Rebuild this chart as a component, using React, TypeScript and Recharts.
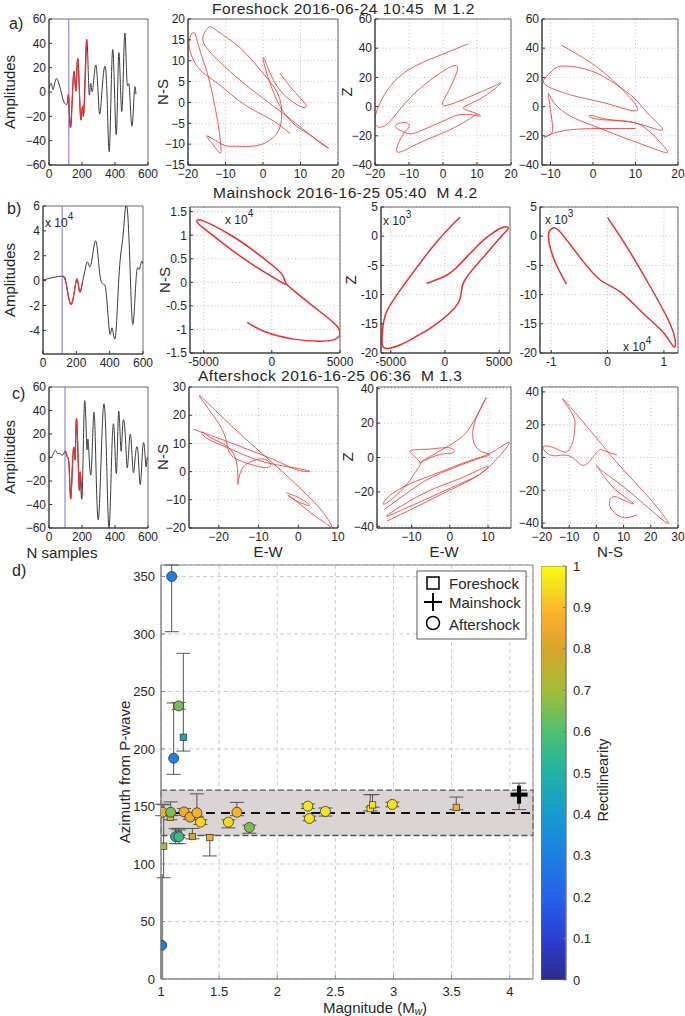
import React from 'react';
import {
  LineChart, Line, XAxis, YAxis, CartesianGrid, ReferenceArea, ReferenceLine,
  ScatterChart, Scatter, ErrorBar, BarChart, Bar,
} from 'recharts';

const FONT = '"Liberation Sans", Arial, Helvetica, sans-serif';
const TXT = '#262626';
const RED = '#e8302e';
const WAVE = '#3a3a3a';
const PICK = '#7373e6';

// ---------------- waveforms (N samples vs amplitude)
const foreWaveX = [0, 15, 25, 40, 55, 70, 85, 100, 112, 120, 132, 150, 163, 175, 191, 203, 212, 228, 242, 252, 264, 285, 303, 319, 346, 366, 386, 407, 423, 441, 458, 472, 486, 502, 517, 527];
const foreWaveY = [3, 7, 2, 10, 9, 2, -6, -10, -8, -6, -28, 16, 1, 27, -20, -12, -15, 43, 1, 7, 1, 22, -14, -3, 15, -48, 35, -35, 32, -16, 47, 10, 5, -28, 0, -2];
const foreRedRange = [112, 228];
const forePick = 120;

const mainWaveX = [0, 60, 120, 140, 166, 190, 206, 220, 236, 250, 266, 280, 296, 316, 332, 346, 364, 380, 400, 414, 430, 444, 460, 480, 496, 510, 524, 540, 560, 576, 590, 600];
const mainWaveY = [0.05, 0.25, 0.35, -0.3, -1.9, -0.7, 0.1, -0.9, -0.2, 0.7, 1.5, 1.1, 1.9, 3.2, 1.7, 0.1, -0.3, -1.1, -4.2, -3.8, -4.7, -2.8, 1.2, 3.6, 6.0, 5.0, 0.4, -3.5, 0.4, 0.9, 1.5, 1.35];
const mainRedRange = [120, 236];
const mainPick = 115;

const afterWaveX = [0, 16, 36, 51, 67, 83, 99, 111, 122, 132, 144, 154, 160, 168, 182, 188, 201, 215, 229, 237, 253, 268, 280, 298, 320, 337, 351, 365, 381, 395, 409, 422, 436, 448, 464, 476, 493, 509, 523, 539, 553, 568, 580, 588, 594, 600];
const afterWaveY = [2, 0, 6, 3.5, 3.5, 2, 5.5, 0.7, -8, -35, -0.7, 6, 2, 32, -25, -13, -32, 47, 9, 15, -15, 30, 18, -53, 16, 43, -13, -59, 6, 23, -13, 39, 6, 30, 15, -8, 20, -11, 1, 5, -23, 8, 6, -8, -1, -2];
const afterRedRange = [99, 201];
const afterPick = 97;

// ---------------- particle motions [x, y]
const foreNSvsEW = [[4.5,7],[8,3],[11,0],[11.5,-1],[10,-1],[6,1.5],[3,5],[1,9],[0,10.7],[1,7],[4,0],[8,-5],[12,-7.5],[16,-10],[17.5,-11],[15,-9.5],[8,-4.5],[0,1],[-7,6],[-13,11],[-16,15],[-14.5,18],[-12,17],[-6,13],[0,7],[4,2],[5,-3],[4,-7],[1,-9.5],[-3,-10.5],[-8,-10.5],[-11,-10],[-15,-8],[-13,-10.5],[-11.2,-11.8],[-12,-5],[-13.5,2],[-15,7.5],[-17,13],[-18.3,16.7],[-19.5,15.5],[-19.5,12.5],[-17,8],[-12,4.5],[-5,-0.5],[2,-4],[7.3,-7.5]];
const foreZvsEW = [[7.4,43],[0,36],[-8,28],[-14,18],[-18,5],[-20,-8],[-19,-14],[-16,-11],[-12,0],[-7,12],[-2,21],[2,27],[4.2,27.5],[3.5,20],[1,8],[0,1],[4,3],[10,9],[15,14],[17,16],[14,10],[9,3],[6,-1],[9,-4],[11,-6.5],[8,-5.5],[4,-6],[0,-10],[-5,-15],[-9,-18.5],[-12,-17],[-14,-13],[-11,-11],[-10,-14],[-12,-20],[-13.5,-31],[-8,-26],[0,-18],[6,-11],[10,-5]];
const foreZvsNS = [[-7.4,42],[-1,31],[5,17],[10.5,-2],[4,1.5],[-4,7],[-11.2,15],[-10.5,22],[-8.5,27],[-5,27.5],[0,24],[5,16],[10,5],[13,-5],[16.4,-16],[11,-12],[5,-9.5],[0,-8],[-0.5,-6],[3,-8.5],[8,-10],[12,-14],[16,-25],[17.5,-31.5],[14,-28.5],[7,-21],[0,-13],[-5,-7],[-9,2],[-10.5,9],[-10,-2],[-9.5,-14],[-10,-19],[-11.5,-21],[-9,-18],[-4,-15.5],[3,-15],[10,-15]];

const mainNSvsEW = [[1000,-0.05],[-1000,0.3],[-3000,0.7],[-5000,1.15],[-5500,1.3],[-5000,1.3],[-3000,1.0],[-1000,0.6],[300,0.3],[800,0.15],[1000,0],[1500,-0.15],[3000,-0.5],[4500,-0.85],[5000,-1.05],[4700,-1.2],[3500,-1.25],[1500,-1.2],[-500,-1.05],[-1800,-0.85]];
const mainZvsEW = [[1400,3.3],[-1000,-1.5],[-4000,-8.9],[-5500,-13.5],[-5800,-17.5],[-5500,-19.2],[-4000,-18.5],[-2500,-17],[-1000,-15.3],[1200,-11.5],[1700,-8],[3500,-3.7],[5200,0],[5850,1.4],[5300,1.5],[4000,0],[2600,-2.4],[1000,-5.5],[-60,-6.9],[-1700,-8.1]];
const mainZvsNS = [[-0.73,-8.2],[-0.95,-4],[-1.05,0],[-0.99,1.3],[-0.85,0.8],[-0.5,-3.5],[-0.13,-7.5],[0.22,-9.5],[0.63,-13.2],[1.0,-16.6],[1.17,-18.9],[1.2,-17.7],[1.05,-13.8],[0.69,-7.5],[0.34,-1.8],[0,3.2]];

const afterNSvsEW = [[-26.4,15],[-20,11.8],[-12,7.5],[-5,3.5],[0,0.5],[2.8,0.2],[-3,1.8],[-10,4],[-17,8],[-22,11],[-24,13],[-24,14],[-22,12],[-18,9],[-15.5,3],[-15.2,-4.5],[-14.5,0],[-12,3.5],[-9,4.5],[-7,3],[-7.5,1.5],[-10,1.8],[-14,3.5],[-17,6],[-18,10],[-20,17],[-24.9,26.8],[-20,20.5],[-12,10],[-4,0],[2,-8],[6,-14],[8.4,-19.3],[6.5,-18],[3,-14.5],[0,-11],[-2.5,-8.5],[-1,-10],[2.8,-12],[0.5,-9.5],[-3,-7.5]];
const afterZvsEW = [[-16.4,-37],[-9,-29],[0,-19],[7,-11],[9.9,-5.1],[4,-11],[-4,-18],[-11,-26],[-16.5,-34],[-12,-30],[-4,-22],[4,-14],[10,-6],[15.6,8.5],[11,3],[5,-2],[-2,-8],[-9,-14],[-15,-21],[-17.4,-27],[-15,-24],[-11,-15],[-8.5,-7],[-8,-2],[-10.4,3.7],[-6,4.8],[0,5.6],[0.9,2.7],[-3,1.5],[-7.8,-3.1],[-4,2],[2,10],[6,20],[9.5,34.7],[7.5,26],[6,14.4],[7.4,4.7],[10.4,1.7],[7,-1],[1,-6],[-6,-13],[-12,-22],[-17,-30]];
const afterZvsNS = [[7.5,1.5],[4,3.5],[2,4.6],[0,3],[-4.2,-4.6],[-8,-1],[-12,1.5],[-17,1.5],[-19.5,6.6],[-15,5.5],[-10.9,3.5],[-8.5,10.7],[-7.9,18.8],[-9,27],[-12.2,35.5],[-2,16],[8,-4],[18,-22],[26.4,-39.7],[20,-32],[10,-18],[2,-8],[0,-5],[3,-12],[8,-21],[13.6,-28],[10,-26],[6,-24],[5,-30],[8.7,-36],[12,-36.5],[15,-35]];

// ---------------- panel d) azimuth vs magnitude
const foreMag = [1.192, 1.023, 1.08, 1.15, 1.27, 1.42, 2.8, 2.82, 3.54];
const foreAz = [210.2, 115.5, 140.5, 126, 123.9, 123, 148.2, 151.4, 149.2];
const foreErrLo = [12, 27.5, 2, 3, 2, 16, 2, 2, 2];
const foreErrHi = [73, 36, 2, 5, 7, 2, 12, 9, 9];
const foreRect = [0.44, 0.72, 0.86, 0.78, 0.78, 0.86, 0.95, 0.95, 0.86];

const afterMag = [1.092, 1.109, 1.152, 1.011, 1.083, 1.198, 1.249, 1.309, 1.34, 1.58, 1.653, 1.76, 2.263, 2.277, 2.414, 2.99, 1.126, 1.154];
const afterAz = [350, 192, 237.5, 145, 145, 145.3, 140.8, 144.5, 136.4, 136.4, 145, 131.8, 150.3, 139.6, 145.7, 151.8, 123.7, 123.7];
const afterErrLo = [48, 14, 3, 3, 3, 3, 2, 3, 2, 5, 3, 5, 2, 2, 4, 2, 6, 6];
const afterErrHi = [10, 48, 3, 7, 9, 3, 2, 16.5, 2, 2, 8.6, 2, 2, 2, 3, 2, 7, 6];
const afterRect = [0.3, 0.3, 0.65, 0.86, 0.65, 0.86, 0.86, 0.88, 0.94, 0.94, 0.88, 0.65, 0.96, 0.96, 0.96, 0.96, 0.5, 0.56];

const lowMag = [1.006];
const lowAz = [29.3];
const lowErrLo = [29.3];
const lowErrHi = [62];
const lowRect = [0.3];

const mainMag = [4.08];
const mainAz = [160.3];
const mainErrLo = [13];
const mainErrHi = [10];

const bandLow = 124.8;
const bandMid = 144.3;
const bandHigh = 164.3;

const magTicks = [1, 1.5, 2, 2.5, 3, 3.5, 4];
const azTicks = [0, 50, 100, 150, 200, 250, 300, 350];
const cbTicks = [0, 0.1, 0.2, 0.3, 0.4, 0.5, 0.6, 0.7, 0.8, 0.9, 1];

const cmapStops: [number, string][] = [
  [0, '#2c2a8a'], [0.1, '#2b3fd4'], [0.2, '#2461ea'], [0.3, '#1d7fe2'], [0.4, '#159ccf'],
  [0.5, '#1fb2a6'], [0.6, '#4fbf6f'], [0.7, '#a3bd3a'], [0.8, '#d9a42a'], [0.88, '#fcae2d'],
  [0.95, '#f7de1c'], [1, '#f9fb0e'],
];

// ---------------- helpers
const pairs = (a: number[][]) => a.map(([x, y]) => ({ x, y }));
const zip = (xs: number[], ys: number[]) => xs.map((x, i) => ({ x, y: ys[i] }));
const seg = (pts: any[], r: number[]) => pts.filter((p) => p.x >= r[0] && p.x <= r[1]);

const hex = (h: string) => [1, 3, 5].map((i) => parseInt(h.slice(i, i + 2), 16));
const cmap = (v: number) => {
  for (let i = 1; i < cmapStops.length; i++) {
    const [v1, c1] = cmapStops[i];
    const [v0, c0] = cmapStops[i - 1];
    if (v <= v1) {
      const t = (v - v0) / (v1 - v0);
      const a = hex(c0), b = hex(c1);
      const c = a.map((q, k) => Math.round(q + (b[k] - q) * t));
      return `rgb(${c[0]},${c[1]},${c[2]})`;
    }
  }
  return cmapStops[cmapStops.length - 1][1];
};

const pts = (mag: number[], az: number[], lo: number[], hi: number[], rect?: number[]) =>
  mag.map((m, i) => ({ mag: m, az: az[i], err: [lo[i], hi[i]], r: rect ? rect[i] : 0 }));

const foreWave = zip(foreWaveX, foreWaveY);
const mainWave = zip(mainWaveX, mainWaveY);
const afterWave = zip(afterWaveX, afterWaveY);

type Series = { data: any[]; color: string; width: number };
type PanelProps = {
  box: number[]; xDom: number[]; yDom: number[]; xTicks: number[]; yTicks: number[];
  minus: boolean; grid: boolean; series: Series[]; vline?: number;
};

const YW = 40, PT = 10, PR = 14, XH = 24;

function Panel({ box, xDom, yDom, xTicks, yTicks, minus, grid, series, vline }: PanelProps) {
  const [x0, y0, x1, y1] = box;
  const w = x1 - x0 + YW + PR;
  const h = y1 - y0 + PT + XH;
  const fmt = (v: number) => (minus ? String(v).replace('-', '\u2212') : String(v));
  const tick = { fontSize: 12, fill: TXT, fontFamily: FONT };
  return (
    <div style={{ position: 'absolute', left: x0 - YW, top: y0 - PT }}>
      <LineChart width={w} height={h} margin={{ top: PT, right: PR, left: 0, bottom: 0 }}>
        {grid && <CartesianGrid stroke="#c2c2c2" strokeDasharray="1 2.5" />}
        <XAxis type="number" dataKey="x" domain={xDom} ticks={xTicks} allowDataOverflow height={XH}
          interval={0} tickFormatter={fmt} tick={tick} stroke="#333" tickSize={-3} tickMargin={7} />
        <YAxis type="number" domain={yDom} ticks={yTicks} allowDataOverflow width={YW}
          interval={0} tickFormatter={fmt} tick={tick} stroke="#333" tickSize={-3} tickMargin={6} />
        {vline !== undefined && <ReferenceLine x={vline} stroke={PICK} strokeWidth={1} />}
        {series.map((s, i) => (
          <Line key={i} data={s.data} dataKey="y" type="natural" dot={false} stroke={s.color}
            strokeWidth={s.width} isAnimationActive={false} />
        ))}
        <ReferenceArea x1={xDom[0]} x2={xDom[1]} y1={yDom[0]} y2={yDom[1]} fill="none" stroke="#444" strokeWidth={0.8} />
      </LineChart>
    </div>
  );
}

const panels: PanelProps[] = [
  { box: [49, 19, 148, 165], xDom: [0, 600], yDom: [-60, 60], xTicks: [0, 200, 400, 600], yTicks: [-60, -40, -20, 0, 20, 40, 60], minus: true, grid: false, vline: forePick,
    series: [{ data: foreWave, color: WAVE, width: 1 }, { data: seg(foreWave, foreRedRange), color: RED, width: 1.2 }] },
  { box: [188, 19, 338, 165], xDom: [-20, 20], yDom: [-15, 20], xTicks: [-20, -10, 0, 10, 20], yTicks: [-15, -10, -5, 0, 5, 10, 15, 20], minus: true, grid: true,
    series: [{ data: pairs(foreNSvsEW), color: RED, width: 0.8 }] },
  { box: [375, 19, 511, 165], xDom: [-20, 20], yDom: [-40, 60], xTicks: [-20, -10, 0, 10, 20], yTicks: [-40, -20, 0, 20, 40, 60], minus: true, grid: true,
    series: [{ data: pairs(foreZvsEW), color: RED, width: 0.8 }] },
  { box: [542, 19, 678, 165], xDom: [-12, 20], yDom: [-40, 60], xTicks: [-10, 0, 10, 20], yTicks: [-40, -20, 0, 20, 40, 60], minus: true, grid: true,
    series: [{ data: pairs(foreZvsNS), color: RED, width: 0.8 }] },

  { box: [43, 206, 143, 354], xDom: [0, 600], yDom: [-5.9, 6], xTicks: [0, 200, 400, 600], yTicks: [-4, -2, 0, 2, 4, 6], minus: false, grid: false, vline: mainPick,
    series: [{ data: mainWave, color: WAVE, width: 1 }, { data: seg(mainWave, mainRedRange), color: RED, width: 1.2 }] },
  { box: [190, 207, 340, 353], xDom: [-6000, 5000], yDom: [-1.5, 1.6], xTicks: [-5000, 0, 5000], yTicks: [-1.5, -1, -0.5, 0, 0.5, 1, 1.5], minus: false, grid: true,
    series: [{ data: pairs(mainNSvsEW), color: RED, width: 1.5 }] },
  { box: [381, 207, 510, 353], xDom: [-5900, 6000], yDom: [-20, 5], xTicks: [-5000, 0, 5000], yTicks: [-20, -15, -10, -5, 0, 5], minus: false, grid: true,
    series: [{ data: pairs(mainZvsEW), color: RED, width: 1.5 }] },
  { box: [540, 207, 678, 353], xDom: [-1.2, 1.25], yDom: [-20, 5], xTicks: [-1, 0, 1], yTicks: [-20, -15, -10, -5, 0, 5], minus: false, grid: true,
    series: [{ data: pairs(mainZvsNS), color: RED, width: 1.5 }] },

  { box: [49, 387, 148, 528], xDom: [0, 600], yDom: [-60, 60], xTicks: [0, 200, 400, 600], yTicks: [-60, -40, -20, 0, 20, 40, 60], minus: true, grid: false, vline: afterPick,
    series: [{ data: afterWave, color: WAVE, width: 1 }, { data: seg(afterWave, afterRedRange), color: RED, width: 1.2 }] },
  { box: [189, 387, 338, 528], xDom: [-27.5, 10], yDom: [-20, 30], xTicks: [-20, -10, 0, 10], yTicks: [-20, -10, 0, 10, 20, 30], minus: true, grid: true,
    series: [{ data: pairs(afterNSvsEW), color: RED, width: 0.8 }] },
  { box: [377, 387, 511, 528], xDom: [-19, 16], yDom: [-41, 41], xTicks: [-10, 0, 10], yTicks: [-40, -20, 0, 20, 40], minus: true, grid: true,
    series: [{ data: pairs(afterZvsEW), color: RED, width: 0.8 }] },
  { box: [542, 387, 678, 528], xDom: [-20, 30], yDom: [-43, 43], xTicks: [-20, -10, 0, 10, 20, 30], yTicks: [-40, -20, 0, 20, 40], minus: true, grid: true,
    series: [{ data: pairs(afterZvsNS), color: RED, width: 0.8 }] },
];

const circleShape = (p: any) => (
  <circle cx={p.cx} cy={p.cy} r={5} fill={cmap(p.payload.r)} stroke="#333" strokeWidth={0.8} />
);
const squareShape = (p: any) => (
  <rect x={p.cx - 3.2} y={p.cy - 3.2} width={6.4} height={6.4} fill={cmap(p.payload.r)} stroke="#333" strokeWidth={0.7} />
);
const crossShape = (p: any) => (
  <g>
    <rect x={p.cx - 8.5} y={p.cy - 2} width={17} height={4} fill="#000" />
    <rect x={p.cx - 2} y={p.cy - 9} width={4} height={18} fill="#000" />
  </g>
);

function AzimuthChart() {
  const L = 161, T = 565, R = 533, B = 979;
  const yw = 55, pt = 10, pr = 14, xh = 26;
  const tick = { fontSize: 13, fill: TXT, fontFamily: FONT };
  return (
    <div style={{ position: 'absolute', left: L - yw, top: T - pt }}>
      <ScatterChart width={R - L + yw + pr} height={B - T + pt + xh} margin={{ top: pt, right: pr, left: 0, bottom: 0 }}>
        <CartesianGrid stroke="#cdcdcd" strokeDasharray="4 3" />
        <XAxis type="number" dataKey="mag" domain={[1, 4.2]} ticks={magTicks} allowDataOverflow height={xh}
          interval={0} tick={tick} stroke="#888" tickSize={-4} tickMargin={12} />
        <YAxis type="number" dataKey="az" domain={[0, 360]} ticks={azTicks} allowDataOverflow width={yw}
          interval={0} tick={tick} stroke="#888" tickSize={-4} tickMargin={10} />
        <ReferenceArea y1={bandLow} y2={bandHigh} fill="#dad4d4" fillOpacity={1} stroke="#555" strokeDasharray="6 3" strokeWidth={1.3} />
        <ReferenceLine y={bandMid} stroke="#111" strokeWidth={2} strokeDasharray="9 6" />
        <Scatter data={pts(lowMag, lowAz, lowErrLo, lowErrHi, lowRect)} shape={circleShape} isAnimationActive={false}>
          <ErrorBar dataKey="err" direction="y" width={0} stroke="#8c8c8c" strokeWidth={3} />
        </Scatter>
        <Scatter data={pts(foreMag, foreAz, foreErrLo, foreErrHi, foreRect)} shape={squareShape} isAnimationActive={false}>
          <ErrorBar dataKey="err" direction="y" width={7} stroke="#555" strokeWidth={1} />
        </Scatter>
        <Scatter data={pts(afterMag, afterAz, afterErrLo, afterErrHi, afterRect)} shape={circleShape} isAnimationActive={false}>
          <ErrorBar dataKey="err" direction="y" width={7} stroke="#555" strokeWidth={1} />
        </Scatter>
        <Scatter data={pts(mainMag, mainAz, mainErrLo, mainErrHi)} shape={crossShape} isAnimationActive={false}>
          <ErrorBar dataKey="err" direction="y" width={7} stroke="#555" strokeWidth={1} />
        </Scatter>
        <ReferenceArea x1={1} x2={4.2} y1={0} y2={360} fill="none" stroke="#888" strokeWidth={1} />
      </ScatterChart>
    </div>
  );
}

function ColorBar() {
  const L = 541, T = 566, B = 980, W = 25;
  const pt = 10, pb = 8, yw = 40;
  return (
    <div style={{ position: 'absolute', left: L, top: T - pt }}>
      <BarChart width={W + yw} height={B - T + pt + pb} data={[{ k: 'c', v: 1 }]} margin={{ top: pt, right: 0, left: 0, bottom: pb }} barCategoryGap={0}>
        <defs>
          <linearGradient id="parulaGrad" x1="0" y1="1" x2="0" y2="0">
            {cmapStops.map(([v, c]) => <stop key={v} offset={`${v * 100}%`} stopColor={c} />)}
          </linearGradient>
        </defs>
        <XAxis dataKey="k" hide />
        <YAxis orientation="right" type="number" domain={[0, 1]} ticks={cbTicks} allowDataOverflow width={yw}
          interval={0} tick={{ fontSize: 13, fill: TXT, fontFamily: FONT }} stroke="#777" tickSize={-3} tickMargin={10} />
        <Bar dataKey="v" fill="url(#parulaGrad)" stroke="#777" strokeWidth={0.8} isAnimationActive={false} />
      </BarChart>
    </div>
  );
}

const Tx = (p: any) => <text fontFamily={FONT} fill={TXT} {...p} />;

function Overlay() {
  const nb = '\u00a0\u00a0';
  return (
    <svg width={685} height={1016} style={{ position: 'absolute', left: 0, top: 0, pointerEvents: 'none' }}>
      {/* titles */}
      <Tx x={212} y={13.5} fontSize={15.5} letterSpacing={0.5}>{`Foreshock 2016-06-24 10:45${nb}M 1.2`}</Tx>
      <Tx x={213} y={197.5} fontSize={15.5} letterSpacing={0.5}>{`Mainshock 2016-16-25 05:40${nb}M 4.2`}</Tx>
      <Tx x={198} y={381} fontSize={15.5} letterSpacing={0.5}>{`Aftershock 2016-16-25 06:36${nb}M 1.3`}</Tx>
      {/* row letters */}
      <Tx x={9} y={29} fontSize={16}>a)</Tx>
      <Tx x={7} y={214} fontSize={16}>b)</Tx>
      <Tx x={12} y={399} fontSize={16}>c)</Tx>
      <Tx x={12} y={576} fontSize={16}>d)</Tx>
      {/* y labels */}
      {[92, 280, 457].map((cy) => (
        <Tx key={cy} x={15} y={cy} fontSize={15} textAnchor="middle" transform={`rotate(-90 15 ${cy})`}>Amplitudes</Tx>
      ))}
      {[[168, 92], [170, 280], [168, 457]].map(([cx, cy]) => (
        <Tx key={cy} x={cx} y={cy} fontSize={15} textAnchor="middle" transform={`rotate(-90 ${cx} ${cy})`}>N-S</Tx>
      ))}
      {[[352, 92], [356, 280], [353, 457]].map(([cx, cy]) => (
        <Tx key={cy} x={cx} y={cy} fontSize={15} textAnchor="middle" transform={`rotate(-90 ${cx} ${cy})`}>Z</Tx>
      ))}
      {/* x labels */}
      <Tx x={62} y={558} fontSize={15} textAnchor="middle">N samples</Tx>
      <Tx x={268} y={557} fontSize={15} textAnchor="middle">E-W</Tx>
      <Tx x={444} y={557} fontSize={15} textAnchor="middle">E-W</Tx>
      <Tx x={610} y={557} fontSize={15} textAnchor="middle">N-S</Tx>
      {/* exponents */}
      <Tx x={45} y={227} fontSize={12}>x 10<tspan fontSize={10} dy={-7}>4</tspan></Tx>
      <Tx x={225} y={224} fontSize={12}>x 10<tspan fontSize={10} dy={-7}>4</tspan></Tx>
      <Tx x={383} y={225} fontSize={12}>x 10<tspan fontSize={10} dy={-7}>3</tspan></Tx>
      <Tx x={545} y={224} fontSize={12}>x 10<tspan fontSize={10} dy={-7}>3</tspan></Tx>
      <Tx x={623} y={351} fontSize={12}>x 10<tspan fontSize={10} dy={-7}>4</tspan></Tx>
      {/* d) labels */}
      <Tx x={130} y={772} fontSize={15} textAnchor="middle" transform="rotate(-90 130 772)">Azimuth from P-wave</Tx>
      <Tx x={323} y={1013} fontSize={15}>Magnitude (M<tspan fontSize={10} fontStyle="italic" dy={2}>w</tspan><tspan dy={-2}>)</tspan></Tx>
      <Tx x={608} y={780} fontSize={14.5} textAnchor="middle" transform="rotate(-90 608 780)">Rectilinearity</Tx>
      {/* legend */}
      <rect x={417} y={571} width={109} height={68} fill="#fff" stroke="#333" strokeWidth={0.8} />
      <rect x={427} y={577} width={12} height={12} fill="none" stroke="#000" strokeWidth={1.5} />
      <line x1={424} y1={602} x2={442} y2={602} stroke="#000" strokeWidth={2} />
      <line x1={433} y1={593} x2={433} y2={611} stroke="#000" strokeWidth={2} />
      <circle cx={433} cy={623} r={6.5} fill="none" stroke="#000" strokeWidth={1.5} />
      <Tx x={449} y={589} fontSize={15}>Foreshock</Tx>
      <Tx x={449} y={608} fontSize={15}>Mainshock</Tx>
      <Tx x={449} y={630} fontSize={15}>Aftershock</Tx>
    </svg>
  );
}

export default function App() {
  return (
    <div style={{ position: 'absolute', left: 0, top: 0, width: 685, height: 1016, background: '#fff', fontFamily: FONT }}>
      {panels.map((p, i) => <Panel key={i} {...p} />)}
      <AzimuthChart />
      <ColorBar />
      <Overlay />
    </div>
  );
}
